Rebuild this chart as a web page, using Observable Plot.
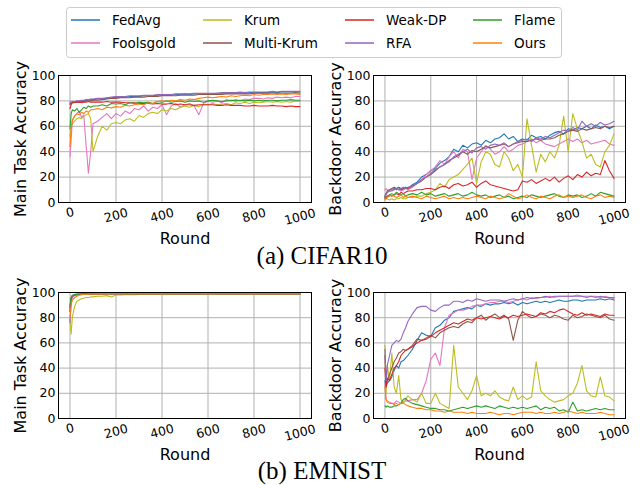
<!DOCTYPE html>
<html><head><meta charset="utf-8">
<script src="https://cdn.jsdelivr.net/npm/d3@7"></script>
<script src="https://cdn.jsdelivr.net/npm/@observablehq/plot@0.6"></script>
<style>
body{margin:0;background:#fff;}
#wrap{position:relative;width:640px;height:485px;background:#fff;overflow:hidden;font-family:"DejaVu Sans",sans-serif;}
.panel{position:absolute;overflow:visible;}
#overlay{position:absolute;left:0;top:0;}
</style></head>
<body><div id="wrap"></div>
<script>
// ---------- shared data ----------
const rounds = [0,5,10,20,30,40,50,60,70,80,90,100,
  120,140,160,180,200, 220,240,260,280,300, 320,340,360,380,400, 420,440,460,480,500,
  520,540,560,580,600, 620,640,660,680,700, 720,740,760,780,800, 820,840,860,880,900,
  920,940,960,980,1000];
const methods = ["FedAvg","Foolsgold","Krum","Multi-Krum","Weak-DP","RFA","Flame","Ours"];
const colors = ["#1f77b4","#e377c2","#bcbd22","#8c564b","#d62728","#9467bd","#2ca02c","#ff7f0e"];
const xTicks = [0,200,400,600,800,1000];
const yTicks = [0,20,40,60,80,100];
const captions = ["(a) CIFAR10","(b) EMNIST"];
const yLabels = ["Main Task Accuracy","Backdoor Accuracy"];
const xLabel = "Round";

// ---------- CIFAR10 main task accuracy ----------
const cmFedAvg = [78,78.5,79,79,79.5,79.5,80,80,80.5,80.5,81,81, 81.5,81.5,82,82.5,83, 83,83,83.5,83.5,83.5, 84,84,84,84.5,84.5, 84.5,84.5,85,85,85.5, 85,85.5,85.5,85.5,85.5, 85.5,86,86,86,86, 86,86.5,86,86.5,86.5, 86.5,86.5,86.5,87,86.5, 87,87,87,87,87];
const cmFoolsgold = [36,50,64,68,70,72,67,69,45,23,40,62, 64,67,70,66,70, 68,72,70,74,73, 76,72,75,74,77, 69,76,78,75,77, 78,76,69,78,80, 79,80,78.5,81,80, 81,80,81.5,81,82, 82,81.5,82.5,82,83, 82.5,83,82.5,83.5,83.5];
const cmKrum = [52,58,62,64,66,67,66,68,69,70,66,40, 52,60,57,62,63, 62,65,66,64,68.5, 67,70,71,70,73, 72,74,73,75,76, 75,76.5,75.5,77,77, 78,77,77.5,78,77, 78.5,78,79,78,79, 78.5,79,79.5,79,79.5, 79,79.5,79,80,79.5];
const cmMultiKrum = [77,78,78.5,78.5,79,79,79.5,79.5,80,80,80,80.5, 80.5,81,81.5,82,82, 82.5,82.5,82.5,83,83, 83,83.5,83.5,83.5,84, 84,84,84,84.5,84.5, 84.5,84.5,85,85,85, 85,85,85,85.5,85.5, 85.5,85.5,85.5,85.5,86, 86,86,86,86,86, 86,86,86,86.5,86];
const cmWeakDP = [74,77,78.5,79,79,79,78.5,79,79,79.5,79,79, 79,79,79.5,79,79, 79,78.5,78.5,78.5,78, 78,78,77.5,78,77.5, 77.5,78,77,77.5,77, 77,76.5,77,77,77, 77,76.5,76.5,77,76.5, 76.5,76.5,76,76,76.5, 76,76,76,76.5,76, 76,75.5,76,75.5,75.5];
const cmRFA = [79,79,79.5,79.5,80,80,80.5,80.5,81,81,81.5,81.5, 82,82,82.5,83,83.5, 83.5,83.5,84,84,84, 84.5,84.5,84.5,85,85, 85,85,85.5,85.5,85.5, 85.5,86,86,86,86, 86,86,86.5,86.5,86.5, 86.5,87,86.5,87,87, 87,87,87,87.5,87, 87.5,87.5,87.5,87.5,87.5];
const cmFlame = [58,70,73,72,74,71,73,75,74,76,75,76, 76,77,76,78,77.5, 78,77,78.5,78,79, 78.5,79,78,79.5,79, 80,79,79.5,80,79, 80,79.5,80,79,80, 80.5,80,79.5,80,80.5, 80,80.5,80,80.5,80, 80.5,80,80.5,80.5,80, 80.5,80.5,81,80.5,80.5];
const cmOurs = [44,58,65,68,70,69,71,70,72,71,73,73, 74,73,75,74.5,75.5, 75,76.5,76,77,77.5, 77,78.5,78,79.5,80, 79.5,80.5,80,81,80.5, 81.5,81,82,82.5,83, 82.5,83,83.5,83,84, 83.5,84,84.5,84,85, 84.5,85,85,85.5,85, 85.5,85,85.5,85.5,85];

// ---------- CIFAR10 backdoor accuracy ----------
const cbFedAvg = [5,7,8,9,10,11,10,12,11,10,12,11, 14,16,20,22,25, 27,31,33,36,42, 40,45,43,46,47, 45,49,47,50,51, 54,50,52,48,50, 49,53,51,52,50, 53,55,56,54,58, 57,59,58,60,58, 61,59,60,58,60];
const cbFoolsgold = [10,11,10,9,10,10,11,10,9,10,11,10, 12,15,18,22,25, 28,33,30,36,40, 35,42,40,18,35, 40,45,42,38,40, 44,40,42,45,46, 48,50,47,49,46, 45,44,46,48,50, 48,50,47,49,46, 47,48,49,46,45];
const cbKrum = [2,3,3,2,3,2,3,3,4,3,3,4, 4,5,5,7,8, 10,15,12,18,20, 22,26,30,35,15, 32,40,38,30,28, 40,35,25,30,20, 66,45,24,38,32, 40,35,45,68,40, 70,58,48,35,38, 30,28,40,45,54];
const cbMultiKrum = [4,7,9,10,11,12,11,12,10,11,12,11, 13,15,17,20,22, 25,28,30,33,35, 37,40,38,41,40, 42,44,43,44,45, 46,44,46,47,48, 48,49,50,49,50, 50,51,53,54,56, 57,56,58,57,58, 59,58,60,59,60];
const cbWeakDP = [3,4,5,6,5,6,7,6,8,7,8,9, 9,10,10,11,11, 10,12,13,11,14, 15,13,14,16,12, 15,17,14,13,12, 11,10,9,10,17, 16,18,15,17,19, 17,20,16,19,21, 18,22,20,24,21, 23,22,33,25,19];
const cbRFA = [5,6,8,9,9,10,11,10,11,12,11,12, 13,15,18,20,23, 26,28,30,32,36, 38,40,42,39,43, 44,42,45,46,45, 47,44,46,48,49, 50,48,51,50,52, 51,53,55,57,56, 59,57,64,60,62, 60,63,61,62,64];
const cbFlame = [4,3,5,6,7,6,8,7,6,7,5,6, 7,6,8,6,7, 5,6,7,5,6, 7,5,6,8,6, 5,6,4,5,6, 4,5,3,4,5, 4,6,5,4,5, 6,7,5,4,6, 5,6,4,5,7, 5,8,7,6,5];
const cbOurs = [2,3,4,5,6,5,4,5,6,4,5,4, 5,4,3,5,4, 3,4,5,3,4, 3,4,3,4,5, 4,3,5,4,3, 4,7,5,3,4, 6,4,3,5,4, 3,5,6,4,5, 4,5,6,4,3, 5,6,4,5,4];

// ---------- EMNIST main task accuracy ----------
const emFedAvg = [88,95,97,98,98.3,98.5,98.6,98.7,98.8,98.8,98.9,98.9, 98.9,99,99,99,99, 99,99,99,99,99, 99,99,99,99,99, 99,99,99,99,99, 99,99,99,99,99, 99,99,99,99,99, 99,99,99,99,99, 99,99,99,99,99, 99,99,99,99,99];
const emFoolsgold = [85,93,96,97.5,98,98.3,98.5,98.6,98.7,98.8,98.8,98.9, 98.9,98.9,99,99,99, 99,99,99,99,99, 99,99,99,99,99, 99,99,99,99,99, 99,99,99,99,99, 99,99,99,99,99, 99,99,99,99,99, 99,99,99,99,99, 99,99,99,99,99];
const emKrum = [79,67,80,89,93,94,95,95.5,96,96,96.5,96.5, 97,97,97.5,96.5,98, 98,98.2,98.3,98.3,98.5, 98.5,98.5,98.6,98.6,98.7, 98.7,98.7,98.8,98.8,98.8, 98.8,98.8,98.8,98.8,98.8, 98.8,98.8,98.8,98.8,98.8, 98.8,98.8,98.8,98.8,98.8, 98.8,98.8,98.8,98.8,98.8, 98.8,98.8,98.8,98.8,98.8];
const emMultiKrum = [88,96,97.5,98.2,98.5,98.6,98.7,98.8,98.8,98.9,98.9,98.9, 99,99,99,99,99, 99,99,99,99,99, 99,99,99,99,99, 99,99,99,99,99, 99,99,99,99,99, 99,99,99,99,99, 99,99,99,99,99, 99,99,99,99,99, 99,99,99,99,99];
const emWeakDP = [85,95,97,98,98.3,98.5,98.6,98.7,98.8,98.8,98.9,98.9, 98.9,98.9,99,99,99, 99,99,99,99,99, 99,99,99,99,99, 99,99,99,99,99, 99,99,99,99,99, 99,99,99,99,99, 99,99,99,99,99, 99,99,99,99,99, 99,99,99,99,99];
const emRFA = [76,93,97,98,98.4,98.6,98.7,98.8,98.8,98.9,98.9,99, 99,99,99,99,99, 99,99,99,99,99, 99,99,99,99,99, 99,99,99,99,99, 99,99,99,99,99, 99,99,99,99,99, 99,99,99,99,99, 99,99,99,99,99, 99,99,99,99,99];
const emFlame = [90,96,97.8,98.5,98.7,98.8,98.8,98.9,98.9,98.9,99,99, 99,99,99,99,99, 99,99,99,99,99, 99,99,99,99,99, 99,99,99,99,99, 99,99,99,99,99, 99,99,99,99,99, 99,99,99,99,99, 99,99,99,99,99, 99,99,99,99,99];
const emOurs = [80,90,94,96,97,97.8,98.2,98.4,98.6,98.7,98.8,98.8, 98.9,98.9,98.9,99,99, 99,99,99,99,99, 99,99,99,99,99, 99,99,99,99,99, 99,99,99,99,99, 99,99,99,99,99, 99,99,99,99,99, 99,99,99,99,99, 99,99,99,99,99];

// ---------- EMNIST backdoor accuracy ----------
const ebFedAvg = [30,25,28,30,33,38,42,40,45,46,48,50, 55,62,68,66,65, 72,74,78,80,85, 86,87,88,87,90, 89,91,90,91,91, 92,91,92,90,92, 91,92,93,92,93, 92,93,94,93,93, 94,94,93,94,94, 94,95,94,95,94];
const ebFoolsgold = [28,15,14,13,12,12,14,13,12,13,14,14, 15,15,20,30,47, 52,42,72,82,84, 86,86,87,89,90, 90,91,92,92,93, 93,92,93,94,95, 94,96,95,96,96, 97,96,97,97,97, 97,98,97,97,97, 97,96,97,96,95];
const ebKrum = [58,20,42,30,52,25,20,34,15,12,15,18, 15,13,20,12,12, 20,12,10,8,58, 25,20,15,22,34, 18,20,18,22,17, 15,14,25,15,18, 15,17,45,22,18, 15,13,14,15,18, 20,28,42,22,18, 17,33,18,17,14];
const ebMultiKrum = [50,25,30,35,40,45,48,52,53,55,54,55, 58,63,62,64,66, 64,68,70,72,73, 72,75,77,76,80, 82,78,81,83,80, 82,79,62,78,85, 82,80,81,83,82, 80,82,81,79,78, 82,80,81,83,82, 81,80,82,79,78];
const ebWeakDP = [40,25,32,30,35,40,42,45,50,52,54,55, 57,60,62,63,65, 68,70,72,74,76, 75,77,79,78,80, 79,80,81,80,79, 81,80,82,81,82, 83,82,81,84,83, 85,84,86,87,85, 83,82,84,82,83, 82,81,83,82,82];
const ebRFA = [55,30,42,50,58,60,62,61,63,68,72,77, 83,88,89,89,86, 85,88,90,90,93, 93,92,94,93,95, 94,93,94,94,94, 93,94,95,94,95, 96,95,96,96,97, 96,97,97,97,97, 97,97,97,96,97, 96,97,96,96,96];
const ebFlame = [10,9,10,9,9,10,10,11,12,15,16,14, 12,11,10,9,8, 8,7,7,6,7, 8,9,8,9,10, 9,10,9,8,10, 9,8,9,8,9, 8,9,10,7,9, 8,9,6,7,5, 13,6,7,6,7, 8,7,8,7,7];
const ebOurs = [25,15,13,12,12,11,12,11,12,12,11,10, 9,8,8,7,7, 6,6,5,6,5, 5,5,4,5,4, 4,4,5,4,3, 4,4,3,4,5, 5,5,4,5,4, 4,5,4,5,6, 5,4,5,4,4, 4,5,4,3,3];

const cifarMain = [cmFedAvg,cmFoolsgold,cmKrum,cmMultiKrum,cmWeakDP,cmRFA,cmFlame,cmOurs];
const cifarBackdoor = [cbFedAvg,cbFoolsgold,cbKrum,cbMultiKrum,cbWeakDP,cbRFA,cbFlame,cbOurs];
const emnistMain = [emFedAvg,emFoolsgold,emKrum,emMultiKrum,emWeakDP,emRFA,emFlame,emOurs];
const emnistBackdoor = [ebFedAvg,ebFoolsgold,ebKrum,ebMultiKrum,ebWeakDP,ebRFA,ebFlame,ebOurs];

// ---------- drawing ----------
const wrap = document.getElementById("wrap");
const TICKFS = 12.5, LABFS = 16;
const MT = 30, MB = 58;

function makePanel(series, ylabel, left, frameTop, frameBottom, ml, mr) {
  const marks = [
    Plot.gridX(xTicks, {stroke: "#b0b0b0", strokeOpacity: 1, strokeWidth: 1}),
    Plot.gridY(yTicks, {stroke: "#b0b0b0", strokeOpacity: 1, strokeWidth: 1})
  ];
  series.forEach((vals, i) => {
    marks.push(Plot.line(rounds.map((r, j) => ({r, v: vals[j]})),
      {x: "r", y: "v", stroke: colors[i], strokeWidth: 1.1, strokeLinejoin: "round"}));
  });
  marks.push(Plot.frame({stroke: "#000", strokeWidth: 1}));
  marks.push(Plot.axisY(yTicks, {tickSize: 0, tickPadding: 3, fontSize: TICKFS, label: null}));
  const groups = [[xTicks.filter(d => String(d).length === 1), 10],
                  [xTicks.filter(d => String(d).length === 3), 13],
                  [xTicks.filter(d => String(d).length === 4), 14.5]];
  groups.forEach(([ticks, dy]) => {
    marks.push(Plot.text(ticks, {x: d => d, text: d => String(d), frameAnchor: "bottom",
      dy, rotate: -15, fontSize: TICKFS, textAnchor: "middle", lineAnchor: "middle"}));
  });
  marks.push(Plot.text([ylabel], {text: d => d, frameAnchor: "left", dx: -38, rotate: -90,
    fontSize: LABFS, textAnchor: "middle", lineAnchor: "middle"}));
  marks.push(Plot.text([xLabel], {text: d => d, frameAnchor: "bottom", dy: 36,
    fontSize: LABFS, textAnchor: "middle", lineAnchor: "middle"}));
  const h = frameBottom - frameTop;
  const svg = Plot.plot({
    width: 320, height: h + MT + MB,
    marginLeft: ml, marginRight: mr, marginTop: MT, marginBottom: MB,
    x: {domain: [-50, 1050], axis: null, label: null},
    y: {domain: [0, 100], axis: null, label: null},
    style: {fontFamily: "DejaVu Sans, sans-serif", fontSize: TICKFS + "px", color: "#000", background: "transparent", overflow: "visible"},
    marks
  });
  svg.classList.add("panel");
  svg.style.left = left + "px";
  svg.style.top = (frameTop - MT) + "px";
  wrap.appendChild(svg);
}

makePanel(cifarMain, yLabels[0], 0, 75, 202, 58, 9);
makePanel(cifarBackdoor, yLabels[1], 320, 75, 202, 53, 15);
makePanel(emnistMain, yLabels[0], 0, 292, 418, 58, 9);
makePanel(emnistBackdoor, yLabels[1], 320, 292, 418, 53, 15);

// legend + captions overlay
const ov = d3.create("svg").attr("id", "overlay").attr("width", 640).attr("height", 485)
  .style("font-family", "DejaVu Sans, sans-serif");
ov.append("rect").attr("x", 66.5).attr("y", 7.5).attr("width", 495).attr("height", 50)
  .attr("rx", 3).attr("fill", "#fff").attr("fill-opacity", 0.8).attr("stroke", "#cccccc");
const colX = [71, 203, 345, 473];
const rowY = [20, 43];
methods.forEach((m, i) => {
  const cx = colX[Math.floor(i / 2)], cy = rowY[i % 2];
  ov.append("line").attr("x1", cx).attr("x2", cx + 29).attr("y1", cy).attr("y2", cy)
    .attr("stroke", colors[i]).attr("stroke-width", 1.5);
  ov.append("text").attr("x", cx + 41).attr("y", cy).attr("dy", "0.35em")
    .attr("font-size", 13.5).attr("fill", "#000").text(m);
});
const capY = [264, 479];
captions.forEach((c, i) => {
  ov.append("text").attr("x", 322).attr("y", capY[i]).attr("text-anchor", "middle")
    .attr("font-family", "Liberation Serif, Times New Roman, serif").attr("font-size", 25)
    .attr("fill", "#000").text(c);
});
wrap.appendChild(ov.node());
</script>
</body></html>
